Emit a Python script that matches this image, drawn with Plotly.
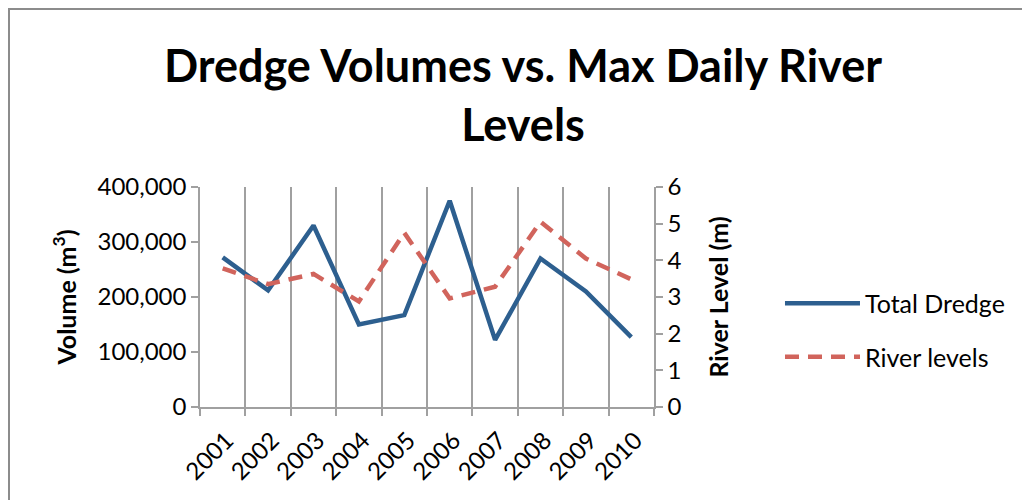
import plotly.graph_objects as go

# Dados
anos = ['2001', '2002', '2003', '2004', '2005', '2006', '2007', '2008', '2009', '2010']
total_dredge = [272000, 212000, 330000, 150000, 167000, 375000, 122000, 270000, 210000, 127000]
river_levels = [3.78, 3.35, 3.63, 2.88, 4.75, 2.96, 3.28, 5.05, 4.05, 3.48]

cinza = '#a0a0a0'
fonte = 'Lato'

fig = go.Figure()

fig.add_trace(go.Scatter(
    x=anos, y=total_dredge,
    mode='lines',
    line=dict(color='#2d5f8f', width=4.5),
    name='Total Dredge',
    legendgroup='a',
))

fig.add_trace(go.Scatter(
    x=anos, y=river_levels,
    mode='lines',
    line=dict(color='#d1645c', width=4.5, dash='14px,9px'),
    name='River levels',
    yaxis='y2',
    legendgroup='b',
))

fig.update_layout(
    width=1030, height=500,
    paper_bgcolor='white', plot_bgcolor='white',
    margin=dict(l=192, r=384, t=179, b=101),
    font=dict(family=fonte, size=24, color='black'),
    title=dict(
        text='<b>Dredge Volumes vs. Max Daily River<br>Levels</b>',
        x=0.5, xanchor='center', xref='container',
        y=0.852, yanchor='top', yref='container',
        font=dict(family=fonte, size=45, color='black'),
    ),
    xaxis=dict(
        type='category',
        range=[-0.5, len(anos) - 0.5],
        tickson='boundaries',
        showgrid=True, gridcolor=cinza, gridwidth=1.5,
        showline=True, linecolor=cinza, linewidth=1.5,
        ticks='outside', ticklen=7, tickcolor=cinza, tickwidth=1.5,
        tickangle=-45,
        ticklabelshift=4, ticklabelstandoff=8,
        tickfont=dict(size=24),
    ),
    yaxis=dict(
        range=[0, 400000], dtick=100000,
        tickformat=',d',
        showgrid=False, zeroline=False,
        showline=True, linecolor=cinza, linewidth=1.5,
        ticks='outside', ticklen=7, tickcolor=cinza, tickwidth=1.5,
        title=dict(text='<b>Volume (m<sup>3</sup>)</b>', standoff=14,
                   font=dict(size=25)),
    ),
    yaxis2=dict(
        range=[0, 6], dtick=1,
        overlaying='y', side='right',
        showgrid=False, zeroline=False,
        showline=True, linecolor=cinza, linewidth=1.5,
        ticks='outside', ticklen=7, tickcolor=cinza, tickwidth=1.5,
        title=dict(text='<b>River Level (m)</b>', standoff=30,
                   font=dict(size=25)),
    ),
    legend=dict(
        x=1.2775, xanchor='left', y=0.35, yanchor='middle',
        traceorder='grouped', tracegroupgap=18,
        itemwidth=75,
        font=dict(size=25),
        bgcolor='rgba(0,0,0,0)',
    ),
    showlegend=True,
)

# Moldura do gráfico
fig.add_shape(
    type='rect', xref='paper', yref='paper',
    x0=-0.4207, y0=-0.5, x1=1.9, y1=1.809,
    line=dict(color='#8c8c8c', width=2),
    fillcolor='rgba(0,0,0,0)', layer='below',
)

fig.write_html('out.html')
